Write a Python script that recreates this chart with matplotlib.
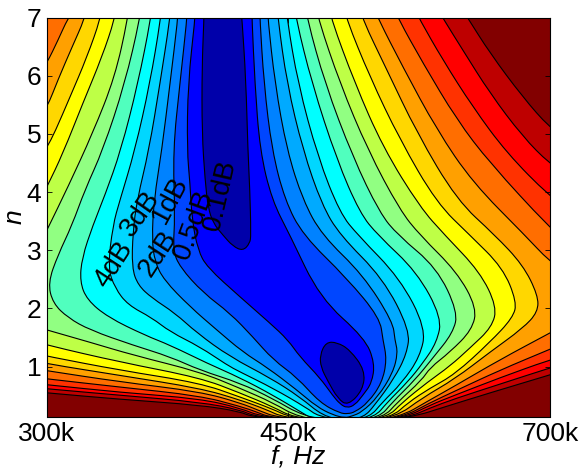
import numpy as np
import matplotlib
matplotlib.use("Agg")
import matplotlib.pyplot as plt
from matplotlib.path import Path
from matplotlib.patches import PathPatch

plt.rcParams['font.family'] = ['Liberation Sans', 'DejaVu Sans']

# contour lines: f in kHz, n
# c1a / c1b are the two 0.1dB lobes, the rest go outwards from 0.5dB
c1a_f = [390.8, 390.8, 389.5, 389.5, 391.5, 393.5, 396.8, 403.5, 410.3, 417.3, 422.2, 423, 422.2, 420.8, 419.4, 416.6, 415.9]
c1a_n = [7.15, 6.99, 6.15, 5.02, 4.21, 3.74, 3.47, 3.26, 3.07, 2.99, 3.12, 3.26, 4.04, 4.72, 5.93, 6.99, 7.15]
c1b_f = [475.1, 479.9, 488.9, 499.7, 512.5, 510.8, 498, 489.7, 481.5, 475.9]
c1b_n = [1.2, 1.42, 1.42, 1.29, 0.94, 0.6, 0.33, 0.45, 0.75, 0.99]

c2_f = [385, 385, 380.4, 379.8, 381.7, 383, 386.9, 392.8, 415.2, 436.7, 450.2, 459.3, 475.1, 485.6, 491.4, 497.2, 503.9, 510.8, 518.5, 521.1, 512.5, 475.1, 451.7, 438.2, 429.4, 425.8, 423.7, 423.7]
c2_n = [7.15, 6.99, 5.87, 4.72, 4.16, 3.52, 3.0, 2.71, 2.2, 1.75, 1.46, 1.17, 0.81, 0.5, 0.36, 0.29, 0.34, 0.51, 0.72, 1.06, 1.49, 2.18, 3.26, 3.86, 4.72, 5.87, 6.99, 7.15]
c3_f = [379.8, 379.8, 375.3, 370.9, 372.2, 370.9, 375.3, 390.2, 408.3, 424.4, 439, 457, 475.1, 491.4, 498, 503.9, 515.1, 527.4, 531.8, 528.3, 525.5, 497.2, 461.7, 447.9, 438.2, 432.3, 429.4, 429.4]
c3_n = [7.15, 6.99, 5.87, 4.72, 3.57, 3.0, 2.71, 2.27, 1.92, 1.51, 1.12, 0.82, 0.38, 0.2, 0.19, 0.22, 0.38, 0.72, 1.12, 1.46, 1.84, 2.52, 3.26, 3.86, 4.72, 5.87, 6.99, 7.15]
c4_f = [374, 374, 369.1, 364, 359.2, 358, 359.8, 365.3, 381.7, 399.4, 417.3, 434.5, 457, 472.7, 485.6, 495.5, 501.4, 509.9, 523.8, 537.2, 541.8, 539, 537.2, 510.8, 476.7, 461.7, 449.4, 440.4, 435.2, 435.2]
c4_n = [7.15, 6.99, 5.87, 4.72, 3.86, 3.18, 2.8, 2.49, 2.03, 1.63, 1.25, 0.99, 0.6, 0.31, 0.17, 0.12, 0.15, 0.22, 0.48, 0.89, 1.24, 1.46, 1.77, 2.58, 3.26, 3.86, 4.72, 5.87, 6.99, 7.15]
c5_f = [369.1, 369.1, 362.9, 356.2, 349.1, 346.7, 346.1, 349.7, 358, 372.2, 386.2, 408.3, 436.7, 459.3, 477.5, 495.5, 511.6, 521.1, 538.2, 550, 552.8, 528.3, 491.4, 476.7, 461.7, 449.4, 442.6, 442.6]
c5_n = [7.15, 6.99, 5.87, 4.72, 3.86, 3.31, 2.7, 2.4, 2.18, 1.92, 1.58, 1.17, 0.81, 0.48, 0.15, 0.08, 0.13, 0.34, 0.79, 1.22, 1.63, 2.52, 3.26, 3.78, 4.72, 5.87, 6.99, 7.15]
c6_f = [363.4, 363.4, 356.8, 347.9, 339.2, 335.2, 332.4, 336.4, 343.8, 358, 369.1, 388.2, 406.2, 415.2, 439, 464.8, 473.5, 495.5, 516.8, 527.4, 545.4, 562.3, 568, 543.6, 506.5, 491.4, 473.5, 457.8, 449.4, 449.4]
c6_n = [7.15, 6.99, 5.87, 4.72, 3.86, 3.43, 2.7, 2.35, 2.06, 1.84, 1.6, 1.34, 1.03, 0.91, 0.63, 0.29, 0.15, 0.07, 0.13, 0.38, 0.72, 1.17, 1.66, 2.52, 3.26, 3.64, 4.6, 5.87, 6.99, 7.15]
c7_f = [357.4, 357.4, 349.7, 339.8, 330.8, 324.1, 318.2, 317.1, 320.9, 332.4, 353.8, 369.1, 392.8, 415.2, 439, 461.7, 467.1, 495.5, 521.1, 531.8, 550.9, 565, 578.5, 583.4, 559.4, 523.8, 508.2, 488.9, 468.7, 456.2, 456.2]
c7_n = [7.15, 6.99, 5.87, 4.72, 3.95, 3.43, 2.87, 2.46, 2.15, 1.85, 1.54, 1.37, 1.06, 0.81, 0.51, 0.2, 0.13, 0.05, 0.13, 0.38, 0.74, 1.06, 1.42, 1.84, 2.63, 3.26, 3.64, 4.55, 5.87, 6.99, 7.15]
c8_f = [350.9, 350.9, 342.1, 329.6, 319.8, 312.9, 305.6, 300.5, 303, 310.8, 322.5, 346.7, 369.1, 388.2, 415.2, 439, 461.7, 495.5, 525.5, 536.3, 557.5, 574.6, 594.4, 599.4, 578.5, 541.8, 525.5, 502.2, 479.1, 464.8, 464.8]
c8_n = [7.15, 6.99, 5.87, 4.72, 4.04, 3.43, 2.92, 2.44, 2.09, 1.84, 1.63, 1.37, 1.17, 0.94, 0.72, 0.45, 0.15, 0.03, 0.13, 0.38, 0.77, 1.15, 1.58, 1.94, 2.7, 3.26, 3.64, 4.6, 5.87, 6.99, 7.15]
c9_f = [343.8, 343.8, 336.4, 324.1, 310.8, 300, 291.5, 291.5, 300, 322.5, 346.7, 388.2, 415.2, 439, 457.8, 495.5, 529.2, 540.9, 564.1, 571.8, 591.4, 613.7, 618.9, 598.4, 562.3, 543.6, 515.1, 491.4, 473.5, 473.5]
c9_n = [7.15, 6.99, 5.98, 5.02, 4.09, 3.35, 2.75, 1.72, 1.63, 1.42, 1.2, 0.91, 0.63, 0.38, 0.13, 0.02, 0.13, 0.38, 0.77, 0.98, 1.25, 1.63, 2.01, 2.63, 3.26, 3.69, 4.72, 5.87, 6.99, 7.15]
c10_f = [336.4, 336.4, 329.1, 318.7, 308.2, 300, 291.5, 291.5, 300, 339.2, 388.2, 415.2, 439, 453.9, 495.5, 532.7, 545.4, 569.9, 591.4, 611.6, 634.8, 640.1, 622, 586.4, 562.3, 528.3, 503.9, 483.9, 483.9]
c10_n = [7.15, 6.99, 6.32, 5.53, 4.67, 4.09, 3.52, 1.46, 1.37, 1.08, 0.81, 0.55, 0.31, 0.13, 0.02, 0.13, 0.38, 0.74, 1.01, 1.32, 1.68, 2.03, 2.63, 3.26, 3.74, 4.77, 5.87, 6.99, 7.15]
c11_f = [328.4, 328.4, 320.9, 311.8, 304, 300, 291.5, 291.5, 300, 339.2, 388.2, 415.2, 439, 451.7, 495.5, 536.3, 550.9, 571.8, 596.4, 632.6, 657.5, 662, 646.5, 611.6, 578.5, 543.6, 516.8, 496.4, 496.4]
c11_n = [7.15, 6.99, 6.32, 5.63, 5.03, 4.77, 4.29, 1.25, 1.18, 0.94, 0.72, 0.48, 0.27, 0.13, 0.0, 0.13, 0.38, 0.63, 0.87, 1.42, 1.84, 2.11, 2.7, 3.26, 3.81, 4.9, 5.98, 6.99, 7.15]
c12_f = [319.8, 319.8, 312.9, 305.6, 300, 291.5, 291.5, 300, 339.2, 388.2, 415.2, 434.5, 446.3, 495.5, 540, 564.1, 596.4, 632.6, 668.7, 685.9, 685.9, 668.7, 638, 598.4, 559.4, 531.8, 509.9, 509.9]
c12_n = [7.15, 6.99, 6.49, 5.93, 5.45, 4.98, 1.12, 1.05, 0.85, 0.63, 0.43, 0.26, 0.13, 0.0, 0.13, 0.46, 0.79, 1.25, 1.66, 1.94, 2.23, 2.75, 3.26, 3.86, 5.02, 6.1, 6.99, 7.15]
c13_f = [314.5, 310.8, 305.6, 300, 291.5, 291.5, 300, 339.2, 388.2, 415.2, 429.4, 441.9, 495.5, 543.6, 569.9, 596.4, 643.3, 700, 718, 718, 700, 670.9, 614.7, 578.5, 546.3, 523.8, 521.1]
c13_n = [7.15, 6.99, 6.61, 6.22, 5.75, 0.98, 0.93, 0.74, 0.57, 0.38, 0.24, 0.13, 0.0, 0.13, 0.41, 0.67, 1.12, 1.58, 1.72, 2.66, 2.8, 3.26, 4.16, 5.07, 6.15, 6.99, 7.15]
# these four leave the top-left corner inside, the doubled first point keeps that corner square
c14_f = [291.5, 291.5, 291.5, 300, 339.2, 388.2, 415.2, 427.3, 436.7, 495.5, 546.3, 571.8, 596.4, 643.3, 700, 718, 718, 700, 632.6, 598.4, 565, 541.8, 539]
c14_n = [7.15, 7.15, 0.83, 0.79, 0.65, 0.5, 0.32, 0.22, 0.13, 0.0, 0.13, 0.38, 0.58, 0.94, 1.3, 1.41, 3.18, 3.38, 4.5, 5.24, 6.22, 6.99, 7.15]
c15_f = [291.5, 291.5, 291.5, 300, 339.2, 388.2, 415.2, 431.6, 495.5, 549.1, 571.8, 596.4, 643.3, 700, 718, 718, 700, 650.9, 614.7, 584.4, 561.3, 557.5]
c15_n = [7.15, 7.15, 0.72, 0.69, 0.56, 0.45, 0.29, 0.13, 0.0, 0.13, 0.34, 0.51, 0.81, 1.12, 1.18, 3.78, 3.92, 4.67, 5.46, 6.27, 6.99, 7.15]
c16_f = [291.5, 291.5, 291.5, 300, 339.2, 388.2, 415.2, 427.3, 495.5, 551.8, 571.8, 596.4, 643.3, 700, 718, 718, 700, 668.7, 632.6, 604.4, 584.4, 579.5]
c16_n = [7.15, 7.15, 0.65, 0.62, 0.51, 0.39, 0.26, 0.13, 0.0, 0.13, 0.29, 0.45, 0.7, 0.98, 1.05, 4.35, 4.48, 4.95, 5.7, 6.44, 6.99, 7.15]
c17_f = [291.5, 291.5, 291.5, 300, 339.2, 388.2, 415.2, 424.4, 495.5, 554.7, 586.4, 632.6, 700, 718, 718, 700, 668.7, 632.6, 609.5, 603.4]
c17_n = [7.15, 7.15, 0.58, 0.55, 0.44, 0.34, 0.23, 0.13, 0.0, 0.13, 0.31, 0.55, 0.86, 0.94, 4.96, 5.1, 5.63, 6.39, 6.99, 7.15]

# band colours, lowest attenuation first
band_colors = ['#0000aa', '#0000ff', '#0046ff', '#0082ff', '#00aaff', '#00d7ff', '#00ffff',
               '#50ffbe', '#91ff82', '#beff46', '#ffff00', '#ffd700', '#ffa000', '#ff6e00',
               '#ff3200', '#ff0000', '#be0000', '#820000']

# outermost first so the inner ones paint over
contours = [(c17_f, c17_n, band_colors[16]), (c16_f, c16_n, band_colors[15]), (c15_f, c15_n, band_colors[14]),
            (c14_f, c14_n, band_colors[13]), (c13_f, c13_n, band_colors[12]), (c12_f, c12_n, band_colors[11]),
            (c11_f, c11_n, band_colors[10]), (c10_f, c10_n, band_colors[9]), (c9_f, c9_n, band_colors[8]),
            (c8_f, c8_n, band_colors[7]), (c7_f, c7_n, band_colors[6]), (c6_f, c6_n, band_colors[5]),
            (c5_f, c5_n, band_colors[4]), (c4_f, c4_n, band_colors[3]), (c3_f, c3_n, band_colors[2]),
            (c2_f, c2_n, band_colors[1]), (c1a_f, c1a_n, band_colors[0]), (c1b_f, c1b_n, band_colors[0])]

db_labels = ['4dB', '3dB', '2dB', '1dB', '0.5dB', '0.1dB']
db_f = [335.9, 350.9, 361.6, 369.1, 384.3, 401.5]
db_n = [2.75, 3.62, 2.95, 3.86, 3.45, 3.95]
db_rot = [57, 55, 57, 62, 70, 77]

f_ticks = [300, 450, 700]
f_ticklabels = ['300k', '450k', '700k']
n_ticks = [1, 2, 3, 4, 5, 6, 7]


def smooth_patch(f, n, color):
    # closed quadratic spline through the midpoints, in log f
    p = np.column_stack([np.log10(f), n])
    mid = (p + np.roll(p, -1, axis=0)) / 2
    verts = [np.roll(mid, 1, axis=0)[0]]
    codes = [Path.MOVETO]
    for i in range(len(p)):
        verts += [p[i], mid[i]]
        codes += [Path.CURVE3, Path.CURVE3]
    verts = np.array(verts)
    verts[:, 0] = 10 ** verts[:, 0]
    return PathPatch(Path(verts, codes), facecolor=color, edgecolor='black', linewidth=0.8)


fig = plt.figure(figsize=(5.81, 4.70), dpi=100)
ax = fig.add_axes([47 / 581, (470 - 416.5) / 470, 503 / 581, 399 / 470])
ax.set_facecolor(band_colors[17])
ax.set_xscale('log')

for f, n, color in contours:
    ax.add_patch(smooth_patch(f, n, color))

for lab, f, n, rot in zip(db_labels, db_f, db_n, db_rot):
    ax.text(f, n, lab, fontsize=20, rotation=rot, rotation_mode='anchor', ha='center', va='center', color='black')

ax.set_xlim(300, 700)
ax.set_ylim(0.144, 7)
ax.set_xticks(f_ticks)
ax.set_xticklabels(f_ticklabels)
ax.minorticks_off()
ax.set_yticks(n_ticks)
ax.tick_params(axis='both', direction='in', length=3.5, width=0.6, labelsize=19, top=True, right=True, pad=4)
for s in ax.spines.values():
    s.set_linewidth(0.8)
ax.set_xlabel('f, Hz', fontsize=19, style='italic', labelpad=-1)
ax.set_ylabel('n', fontsize=19, style='italic', labelpad=0)

fig.savefig('out.png', dpi=100)
